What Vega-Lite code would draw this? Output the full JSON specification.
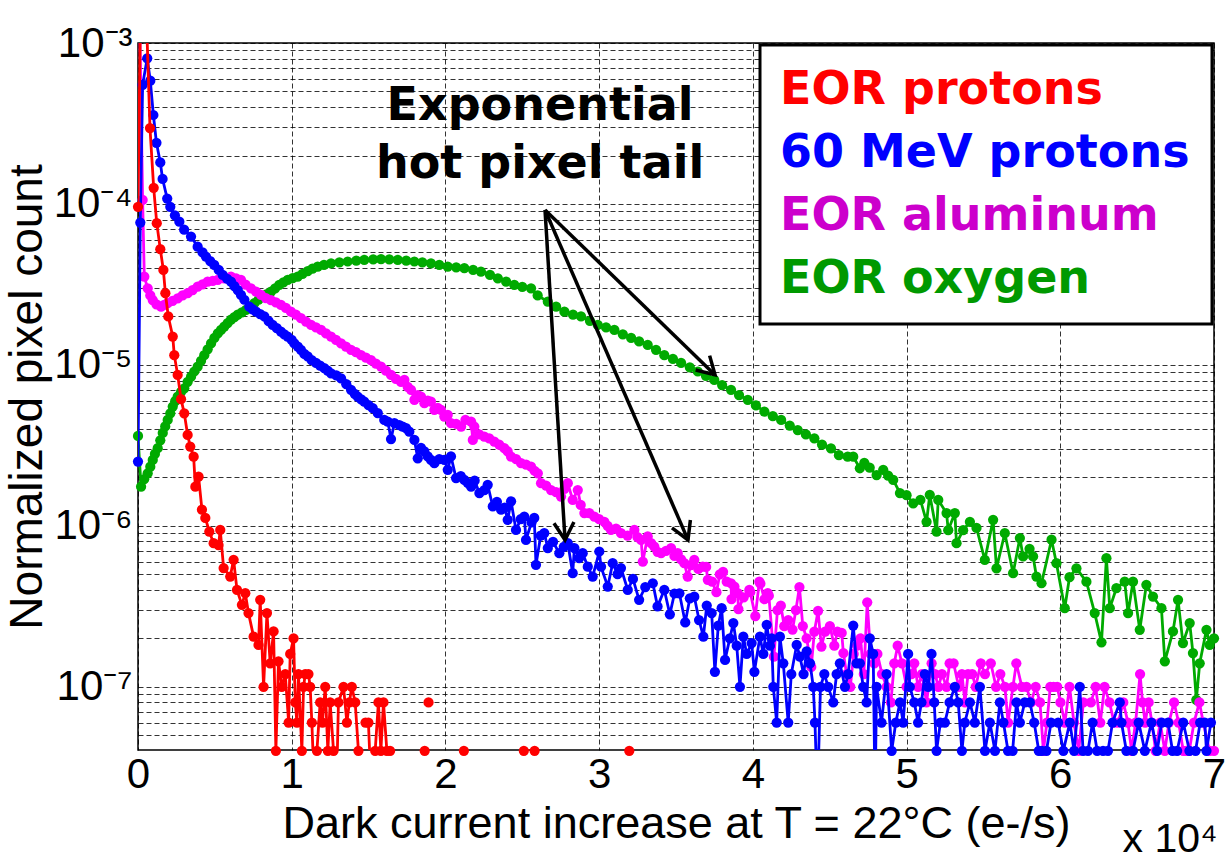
{
"$schema":"https://vega.github.io/schema/vega-lite/v6.json",
"width":1076,"height":707,
"autosize":{"type":"none"},
"padding":{"left":138,"top":43,"right":11,"bottom":110},
"background":"white",
"config":{"view":{"stroke":"black","strokeWidth":1.5}},
"title":{"text":"x 10⁴","orient":"bottom","anchor":"end","fontSize":41,"fontWeight":"normal","font":"Liberation Sans","color":"black","offset":-26,"dx":-8},
"datasets":{
"oxygen":[
{"x":0,"y":3.62e-6},{"x":0.02,"y":1.75e-6},{"x":0.04,"y":1.95e-6},{"x":0.063,"y":2.12e-6},{"x":0.08,"y":2.33e-6},{"x":0.096,"y":2.57e-6},{"x":0.11,"y":2.8e-6},{"x":0.128,"y":3.04e-6},{"x":0.145,"y":3.4e-6},{"x":0.161,"y":3.78e-6},{"x":0.177,"y":4.15e-6},{"x":0.193,"y":4.55e-6},{"x":0.21,"y":5.0e-6},{"x":0.226,"y":5.51e-6},{"x":0.242,"y":5.95e-6},{"x":0.258,"y":6.35e-6},{"x":0.28,"y":6.8e-6},{"x":0.301,"y":7.16e-6},{"x":0.323,"y":7.85e-6},{"x":0.345,"y":8.45e-6},{"x":0.366,"y":9.1e-6},{"x":0.388,"y":9.75e-6},{"x":0.41,"y":1.06e-5},{"x":0.431,"y":1.15e-5},{"x":0.453,"y":1.25e-5},{"x":0.475,"y":1.36e-5},{"x":0.497,"y":1.47e-5},{"x":0.519,"y":1.57e-5},{"x":0.54,"y":1.65e-5},{"x":0.561,"y":1.73e-5},{"x":0.583,"y":1.82e-5},{"x":0.605,"y":1.91e-5},{"x":0.627,"y":1.98e-5},{"x":0.649,"y":2.05e-5},{"x":0.676,"y":2.12e-5},{"x":0.703,"y":2.2e-5},{"x":0.73,"y":2.31e-5},{"x":0.757,"y":2.42e-5},{"x":0.784,"y":2.54e-5},{"x":0.811,"y":2.65e-5},{"x":0.838,"y":2.75e-5},{"x":0.865,"y":2.85e-5},{"x":0.892,"y":2.99e-5},{"x":0.919,"y":3.14e-5},{"x":0.946,"y":3.26e-5},{"x":0.974,"y":3.37e-5},{"x":1.006,"y":3.46e-5},{"x":1.039,"y":3.53e-5},{"x":1.07,"y":3.68e-5},{"x":1.104,"y":3.83e-5},{"x":1.135,"y":3.96e-5},{"x":1.169,"y":4.08e-5},{"x":1.21,"y":4.18e-5},{"x":1.256,"y":4.28e-5},{"x":1.31,"y":4.34e-5},{"x":1.364,"y":4.39e-5},{"x":1.42,"y":4.44e-5},{"x":1.472,"y":4.49e-5},{"x":1.53,"y":4.52e-5},{"x":1.581,"y":4.54e-5},{"x":1.635,"y":4.52e-5},{"x":1.69,"y":4.49e-5},{"x":1.745,"y":4.44e-5},{"x":1.798,"y":4.39e-5},{"x":1.85,"y":4.34e-5},{"x":1.906,"y":4.28e-5},{"x":1.96,"y":4.18e-5},{"x":2.015,"y":4.08e-5},{"x":2.07,"y":4.04e-5},{"x":2.123,"y":3.99e-5},{"x":2.18,"y":3.89e-5},{"x":2.231,"y":3.8e-5},{"x":2.29,"y":3.62e-5},{"x":2.341,"y":3.45e-5},{"x":2.395,"y":3.29e-5},{"x":2.448,"y":3.14e-5},{"x":2.5,"y":3.05e-5},{"x":2.557,"y":2.99e-5},{"x":2.6,"y":2.7e-5},{"x":2.666,"y":2.47e-5},{"x":2.72,"y":2.3e-5},{"x":2.774,"y":2.14e-5},{"x":2.83,"y":2.05e-5},{"x":2.882,"y":2.0e-5},{"x":2.94,"y":1.88e-5},{"x":2.991,"y":1.77e-5},{"x":3.045,"y":1.71e-5},{"x":3.099,"y":1.65e-5},{"x":3.154,"y":1.55e-5},{"x":3.208,"y":1.47e-5},{"x":3.26,"y":1.4e-5},{"x":3.316,"y":1.33e-5},{"x":3.37,"y":1.24e-5},{"x":3.424,"y":1.15e-5},{"x":3.48,"y":1.09e-5},{"x":3.533,"y":1.03e-5},{"x":3.59,"y":9.66e-6},{"x":3.642,"y":9.1e-6},{"x":3.695,"y":8.56e-6},{"x":3.749,"y":8.07e-6},{"x":3.8,"y":7.5e-6},{"x":3.858,"y":7.0e-6},{"x":3.91,"y":6.5e-6},{"x":3.967,"y":6.07e-6},{"x":4.02,"y":5.6e-6},{"x":4.075,"y":5.13e-6},{"x":4.13,"y":4.8e-6},{"x":4.184,"y":4.55e-6},{"x":4.24,"y":4.2e-6},{"x":4.292,"y":3.94e-6},{"x":4.345,"y":3.7e-6},{"x":4.4,"y":3.5e-6},{"x":4.45,"y":3.2e-6},{"x":4.508,"y":3.03e-6},{"x":4.56,"y":2.75e-6},{"x":4.617,"y":2.69e-6},{"x":4.653,"y":2.69e-6},{"x":4.696,"y":2.28e-6},{"x":4.725,"y":2.46e-6},{"x":4.76,"y":2.3e-6},{"x":4.805,"y":2.07e-6},{"x":4.848,"y":2.23e-6},{"x":4.88,"y":2.05e-6},{"x":4.913,"y":1.93e-6},{"x":4.957,"y":1.6e-6},{"x":5.0,"y":1.55e-6},{"x":5.043,"y":1.38e-6},{"x":5.09,"y":1.45e-6},{"x":5.13,"y":1.06e-6},{"x":5.151,"y":1.56e-6},{"x":5.195,"y":9.2e-7},{"x":5.206,"y":1.45e-6},{"x":5.26,"y":1.2e-6},{"x":5.271,"y":9.4e-7},{"x":5.314,"y":1.2e-6},{"x":5.325,"y":7.8e-7},{"x":5.368,"y":9.4e-7},{"x":5.412,"y":1.06e-6},{"x":5.455,"y":9.7e-7},{"x":5.509,"y":6.15e-7},{"x":5.563,"y":1.09e-6},{"x":5.585,"y":5.45e-7},{"x":5.639,"y":9.0e-7},{"x":5.693,"y":5.08e-7},{"x":5.737,"y":8.4e-7},{"x":5.758,"y":6.46e-7},{"x":5.8,"y":7.2e-7},{"x":5.823,"y":6.46e-7},{"x":5.845,"y":4.84e-7},{"x":5.878,"y":4.4e-7},{"x":5.943,"y":8.2e-7},{"x":5.975,"y":5.86e-7},{"x":6.029,"y":3.08e-7},{"x":6.06,"y":4.8e-7},{"x":6.105,"y":5.45e-7},{"x":6.17,"y":4.5e-7},{"x":6.224,"y":2.87e-7},{"x":6.268,"y":1.89e-7},{"x":6.3,"y":6.3e-7},{"x":6.322,"y":3.08e-7},{"x":6.365,"y":4.1e-7},{"x":6.419,"y":4.5e-7},{"x":6.441,"y":2.87e-7},{"x":6.473,"y":4.5e-7},{"x":6.517,"y":2.26e-7},{"x":6.56,"y":4.3e-7},{"x":6.603,"y":3.64e-7},{"x":6.658,"y":3.08e-7},{"x":6.68,"y":1.44e-7},{"x":6.733,"y":2.21e-7},{"x":6.766,"y":3.47e-7},{"x":6.798,"y":1.87e-7},{"x":6.842,"y":2.49e-7},{"x":6.863,"y":1.62e-7},{"x":6.885,"y":8.3e-8},{"x":6.907,"y":1.4e-7},{"x":6.951,"y":2.26e-7},{"x":6.972,"y":1.82e-7},{"x":7.0,"y":2.0e-7}
],
"aluminum":[
{"x":0.005,"y":3e-3},{"x":0.03,"y":1.06e-4},{"x":0.041,"y":3.53e-5},{"x":0.063,"y":2.99e-5},{"x":0.08,"y":2.7e-5},{"x":0.096,"y":2.53e-5},{"x":0.12,"y":2.38e-5},{"x":0.15,"y":2.3e-5},{"x":0.17,"y":2.36e-5},{"x":0.193,"y":2.42e-5},{"x":0.225,"y":2.5e-5},{"x":0.258,"y":2.59e-5},{"x":0.29,"y":2.7e-5},{"x":0.323,"y":2.79e-5},{"x":0.355,"y":2.92e-5},{"x":0.388,"y":3.06e-5},{"x":0.42,"y":3.17e-5},{"x":0.453,"y":3.29e-5},{"x":0.486,"y":3.33e-5},{"x":0.519,"y":3.37e-5},{"x":0.56,"y":3.45e-5},{"x":0.605,"y":3.53e-5},{"x":0.638,"y":3.45e-5},{"x":0.67,"y":3.37e-5},{"x":0.7,"y":3.15e-5},{"x":0.735,"y":2.99e-5},{"x":0.768,"y":2.85e-5},{"x":0.8,"y":2.72e-5},{"x":0.832,"y":2.6e-5},{"x":0.865,"y":2.53e-5},{"x":0.897,"y":2.45e-5},{"x":0.93,"y":2.36e-5},{"x":0.962,"y":2.26e-5},{"x":0.995,"y":2.14e-5},{"x":1.027,"y":2.05e-5},{"x":1.06,"y":1.95e-5},{"x":1.093,"y":1.86e-5},{"x":1.126,"y":1.77e-5},{"x":1.158,"y":1.71e-5},{"x":1.191,"y":1.65e-5},{"x":1.223,"y":1.57e-5},{"x":1.256,"y":1.5e-5},{"x":1.288,"y":1.43e-5},{"x":1.321,"y":1.36e-5},{"x":1.353,"y":1.3e-5},{"x":1.386,"y":1.24e-5},{"x":1.418,"y":1.2e-5},{"x":1.451,"y":1.15e-5},{"x":1.483,"y":1.11e-5},{"x":1.516,"y":1.07e-5},{"x":1.548,"y":1.02e-5},{"x":1.581,"y":9.77e-6},{"x":1.613,"y":9.2e-6},{"x":1.646,"y":8.67e-6},{"x":1.678,"y":8.2e-6},{"x":1.711,"y":7.84e-6},{"x":1.733,"y":8.07e-6},{"x":1.755,"y":7.3e-6},{"x":1.776,"y":7.0e-6},{"x":1.798,"y":6.07e-6},{"x":1.82,"y":6.5e-6},{"x":1.841,"y":6.35e-6},{"x":1.863,"y":5.78e-6},{"x":1.885,"y":6.0e-6},{"x":1.906,"y":5.92e-6},{"x":1.928,"y":5.25e-6},{"x":1.95,"y":5.4e-6},{"x":1.971,"y":5.25e-6},{"x":1.993,"y":4.78e-6},{"x":2.015,"y":4.9e-6},{"x":2.036,"y":4.35e-6},{"x":2.07,"y":4.3e-6},{"x":2.102,"y":4.14e-6},{"x":2.13,"y":4.55e-6},{"x":2.167,"y":4.45e-6},{"x":2.178,"y":3.42e-6},{"x":2.188,"y":4.14e-6},{"x":2.22,"y":3.7e-6},{"x":2.253,"y":3.59e-6},{"x":2.285,"y":3.5e-6},{"x":2.318,"y":3.34e-6},{"x":2.35,"y":3.2e-6},{"x":2.383,"y":3.04e-6},{"x":2.405,"y":2.9e-6},{"x":2.427,"y":2.69e-6},{"x":2.46,"y":2.6e-6},{"x":2.492,"y":2.45e-6},{"x":2.525,"y":2.4e-6},{"x":2.557,"y":2.33e-6},{"x":2.58,"y":2.2e-6},{"x":2.601,"y":2.12e-6},{"x":2.622,"y":1.84e-6},{"x":2.655,"y":1.78e-6},{"x":2.687,"y":1.67e-6},{"x":2.72,"y":1.62e-6},{"x":2.752,"y":1.52e-6},{"x":2.774,"y":1.7e-6},{"x":2.796,"y":1.84e-6},{"x":2.828,"y":1.45e-6},{"x":2.861,"y":1.67e-6},{"x":2.88,"y":1.35e-6},{"x":2.904,"y":1.2e-6},{"x":2.936,"y":1.2e-6},{"x":2.969,"y":1.14e-6},{"x":3.0,"y":1.1e-6},{"x":3.034,"y":1.06e-6},{"x":3.055,"y":1.0e-6},{"x":3.077,"y":9.44e-7},{"x":3.11,"y":9.6e-7},{"x":3.142,"y":9.0e-7},{"x":3.185,"y":8.7e-7},{"x":3.229,"y":9.44e-7},{"x":3.25,"y":8.5e-7},{"x":3.273,"y":8.18e-7},{"x":3.284,"y":6.0e-7},{"x":3.316,"y":8.6e-7},{"x":3.338,"y":7.8e-7},{"x":3.359,"y":7.43e-7},{"x":3.38,"y":6.9e-7},{"x":3.403,"y":6.76e-7},{"x":3.435,"y":7.0e-7},{"x":3.468,"y":7.28e-7},{"x":3.49,"y":6.5e-7},{"x":3.511,"y":6.76e-7},{"x":3.533,"y":6.2e-7},{"x":3.554,"y":5.86e-7},{"x":3.576,"y":4.84e-7},{"x":3.597,"y":5.7e-7},{"x":3.619,"y":6.15e-7},{"x":3.645,"y":5.4e-7},{"x":3.674,"y":5.58e-7},{"x":3.696,"y":5.56e-7},{"x":3.707,"y":4.62e-7},{"x":3.735,"y":4.5e-7},{"x":3.763,"y":3.87e-7},{"x":3.785,"y":5.0e-7},{"x":3.806,"y":5.18e-7},{"x":3.83,"y":4.5e-7},{"x":3.858,"y":4.4e-7},{"x":3.861,"y":3.51e-7},{"x":3.88,"y":4.2e-7},{"x":3.902,"y":3.82e-7},{"x":3.906,"y":3.04e-7},{"x":3.94,"y":3.6e-7},{"x":3.977,"y":4.0e-7},{"x":3.983,"y":3.87e-7},{"x":4.016,"y":2.75e-7},{"x":4.042,"y":4.5e-7},{"x":4.049,"y":4.37e-7},{"x":4.075,"y":3.5e-7},{"x":4.097,"y":3.82e-7},{"x":4.104,"y":3.68e-7},{"x":4.137,"y":1.54e-7},{"x":4.16,"y":3.0e-7},{"x":4.182,"y":3.19e-7},{"x":4.204,"y":2.38e-7},{"x":4.23,"y":2.6e-7},{"x":4.258,"y":2.27e-7},{"x":4.28,"y":3.0e-7},{"x":4.303,"y":4.17e-7},{"x":4.325,"y":2.38e-7},{"x":4.35,"y":2.0e-7},{"x":4.38,"y":1.33e-7},{"x":4.4,"y":2.2e-7},{"x":4.424,"y":2.96e-7},{"x":4.446,"y":1.78e-7},{"x":4.47,"y":2.2e-7},{"x":4.501,"y":2.38e-7},{"x":4.53,"y":1.8e-7},{"x":4.55,"y":2.2e-7},{"x":4.578,"y":2.16e-7},{"x":4.589,"y":1.62e-7},{"x":4.61,"y":1.2e-7},{"x":4.634,"y":1.0e-7},{"x":4.656,"y":1.6e-7},{"x":4.678,"y":1.8e-7},{"x":4.7,"y":2.0e-7},{"x":4.722,"y":1.2e-7},{"x":4.744,"y":3.35e-7},{"x":4.766,"y":1.6e-7},{"x":4.79,"y":1.4e-7},{"x":4.81,"y":1.6e-7},{"x":4.84,"y":1.2e-7},{"x":4.87,"y":1.0e-7},{"x":4.898,"y":8e-8},{"x":4.92,"y":1.4e-7},{"x":4.942,"y":1.8e-7},{"x":4.97,"y":1.4e-7},{"x":5.0,"y":1.0e-7},{"x":5.031,"y":1.2e-7},{"x":5.05,"y":1.4e-7},{"x":5.075,"y":1.0e-7},{"x":5.1,"y":1.2e-7},{"x":5.13,"y":8e-8},{"x":5.163,"y":1.4e-7},{"x":5.185,"y":1.2e-7},{"x":5.207,"y":1.0e-7},{"x":5.23,"y":1.2e-7},{"x":5.26,"y":1.0e-7},{"x":5.28,"y":1.4e-7},{"x":5.306,"y":1.4e-7},{"x":5.339,"y":1.0e-7},{"x":5.36,"y":1.2e-7},{"x":5.38,"y":8e-8},{"x":5.4,"y":1.2e-7},{"x":5.427,"y":1.2e-7},{"x":5.45,"y":1.0e-7},{"x":5.483,"y":1.4e-7},{"x":5.51,"y":1.2e-7},{"x":5.548,"y":1.4e-7},{"x":5.582,"y":1.0e-7},{"x":5.61,"y":1.2e-7},{"x":5.64,"y":1.0e-7},{"x":5.66,"y":6e-8},{"x":5.692,"y":1.0e-7},{"x":5.714,"y":1.4e-7},{"x":5.75,"y":1.0e-7},{"x":5.78,"y":1.0e-7},{"x":5.81,"y":8e-8},{"x":5.84,"y":1.0e-7},{"x":5.868,"y":8e-8},{"x":5.89,"y":4e-8},{"x":5.913,"y":6e-8},{"x":5.935,"y":1.0e-7},{"x":5.956,"y":1.0e-7},{"x":5.98,"y":1.0e-7},{"x":6.001,"y":8e-8},{"x":6.03,"y":6e-8},{"x":6.06,"y":1.0e-7},{"x":6.089,"y":6e-8},{"x":6.12,"y":4e-8},{"x":6.15,"y":8e-8},{"x":6.199,"y":8e-8},{"x":6.23,"y":1.0e-7},{"x":6.26,"y":6e-8},{"x":6.288,"y":1.0e-7},{"x":6.32,"y":8e-8},{"x":6.35,"y":6e-8},{"x":6.376,"y":6e-8},{"x":6.41,"y":8e-8},{"x":6.44,"y":6e-8},{"x":6.464,"y":4e-8},{"x":6.49,"y":6e-8},{"x":6.519,"y":1.2e-7},{"x":6.535,"y":8e-8},{"x":6.552,"y":6e-8},{"x":6.575,"y":8e-8},{"x":6.596,"y":6e-8},{"x":6.62,"y":4e-8},{"x":6.65,"y":6e-8},{"x":6.68,"y":4e-8},{"x":6.707,"y":6e-8},{"x":6.74,"y":8e-8},{"x":6.77,"y":6e-8},{"x":6.8,"y":4e-8},{"x":6.82,"y":4e-8},{"x":6.839,"y":4e-8},{"x":6.87,"y":6e-8},{"x":6.905,"y":8e-8},{"x":6.93,"y":6e-8},{"x":6.971,"y":4e-8},{"x":7.0,"y":4e-8}
],
"mev":[
{"x":0,"y":2.51e-6},{"x":0.015,"y":7.66e-5},{"x":0.03,"y":5.5e-4},{"x":0.06,"y":8.03e-4},{"x":0.08,"y":5.83e-4},{"x":0.1,"y":3.57e-4},{"x":0.12,"y":2.4e-4},{"x":0.145,"y":1.81e-4},{"x":0.16,"y":1.43e-4},{"x":0.19,"y":1.08e-4},{"x":0.21,"y":9.6e-5},{"x":0.24,"y":8.5e-5},{"x":0.269,"y":7.76e-5},{"x":0.3,"y":6.92e-5},{"x":0.345,"y":6.27e-5},{"x":0.388,"y":5.43e-5},{"x":0.42,"y":5.0e-5},{"x":0.442,"y":4.71e-5},{"x":0.47,"y":4.42e-5},{"x":0.496,"y":4.18e-5},{"x":0.525,"y":3.89e-5},{"x":0.551,"y":3.62e-5},{"x":0.58,"y":3.43e-5},{"x":0.605,"y":3.29e-5},{"x":0.627,"y":3.09e-5},{"x":0.649,"y":2.92e-5},{"x":0.67,"y":2.72e-5},{"x":0.692,"y":2.54e-5},{"x":0.724,"y":2.3e-5},{"x":0.746,"y":2.21e-5},{"x":0.768,"y":2.14e-5},{"x":0.795,"y":2.07e-5},{"x":0.822,"y":2.0e-5},{"x":0.85,"y":1.87e-5},{"x":0.876,"y":1.77e-5},{"x":0.903,"y":1.69e-5},{"x":0.93,"y":1.61e-5},{"x":0.952,"y":1.55e-5},{"x":0.974,"y":1.5e-5},{"x":1.0,"y":1.43e-5},{"x":1.017,"y":1.36e-5},{"x":1.04,"y":1.3e-5},{"x":1.06,"y":1.24e-5},{"x":1.082,"y":1.17e-5},{"x":1.104,"y":1.13e-5},{"x":1.13,"y":1.07e-5},{"x":1.158,"y":1.03e-5},{"x":1.185,"y":9.89e-6},{"x":1.212,"y":9.55e-6},{"x":1.234,"y":9.23e-6},{"x":1.256,"y":8.87e-6},{"x":1.29,"y":8.61e-6},{"x":1.321,"y":8.26e-6},{"x":1.355,"y":7.59e-6},{"x":1.386,"y":7.0e-6},{"x":1.41,"y":6.61e-6},{"x":1.429,"y":6.35e-6},{"x":1.452,"y":6.1e-6},{"x":1.472,"y":5.92e-6},{"x":1.5,"y":5.62e-6},{"x":1.527,"y":5.38e-6},{"x":1.56,"y":5.01e-6},{"x":1.602,"y":4.55e-6},{"x":1.625,"y":4.45e-6},{"x":1.646,"y":3.46e-6},{"x":1.668,"y":4.35e-6},{"x":1.7,"y":4.22e-6},{"x":1.722,"y":4.14e-6},{"x":1.744,"y":4.05e-6},{"x":1.765,"y":3.85e-6},{"x":1.798,"y":3.42e-6},{"x":1.82,"y":2.63e-6},{"x":1.841,"y":3.05e-6},{"x":1.863,"y":2.9e-6},{"x":1.885,"y":2.7e-6},{"x":1.906,"y":2.57e-6},{"x":1.928,"y":2.45e-6},{"x":1.96,"y":2.6e-6},{"x":1.993,"y":2.57e-6},{"x":2.015,"y":2.23e-6},{"x":2.036,"y":2.7e-6},{"x":2.069,"y":1.98e-6},{"x":2.1,"y":2.04e-6},{"x":2.123,"y":1.93e-6},{"x":2.145,"y":1.85e-6},{"x":2.167,"y":1.75e-6},{"x":2.19,"y":1.91e-6},{"x":2.221,"y":1.6e-6},{"x":2.253,"y":1.67e-6},{"x":2.275,"y":1.8e-6},{"x":2.308,"y":1.32e-6},{"x":2.335,"y":1.41e-6},{"x":2.362,"y":1.26e-6},{"x":2.385,"y":1.3e-6},{"x":2.405,"y":1.09e-6},{"x":2.427,"y":1.42e-6},{"x":2.459,"y":9.44e-7},{"x":2.49,"y":1.1e-6},{"x":2.513,"y":1.14e-6},{"x":2.524,"y":8.18e-7},{"x":2.56,"y":1.05e-6},{"x":2.578,"y":1.12e-6},{"x":2.589,"y":5.73e-7},{"x":2.62,"y":8.7e-7},{"x":2.643,"y":9.02e-7},{"x":2.666,"y":7.28e-7},{"x":2.7,"y":7.94e-7},{"x":2.741,"y":6.76e-7},{"x":2.77,"y":7.41e-7},{"x":2.796,"y":7.82e-7},{"x":2.828,"y":5.08e-7},{"x":2.839,"y":7.28e-7},{"x":2.87,"y":6.31e-7},{"x":2.893,"y":6.76e-7},{"x":2.926,"y":5.58e-7},{"x":2.958,"y":4.84e-7},{"x":3.001,"y":6.93e-7},{"x":3.012,"y":5.58e-7},{"x":3.056,"y":4.2e-7},{"x":3.088,"y":5.86e-7},{"x":3.12,"y":5.01e-7},{"x":3.142,"y":5.47e-7},{"x":3.186,"y":4.0e-7},{"x":3.22,"y":4.68e-7},{"x":3.26,"y":3.47e-7},{"x":3.3,"y":4.17e-7},{"x":3.349,"y":4.4e-7},{"x":3.38,"y":3.16e-7},{"x":3.424,"y":4.0e-7},{"x":3.46,"y":2.82e-7},{"x":3.49,"y":3.8e-7},{"x":3.522,"y":3.81e-7},{"x":3.56,"y":2.51e-7},{"x":3.59,"y":3.55e-7},{"x":3.619,"y":3.63e-7},{"x":3.65,"y":2.6e-7},{"x":3.678,"y":2.05e-7},{"x":3.7,"y":3.2e-7},{"x":3.732,"y":2.87e-7},{"x":3.753,"y":1.24e-7},{"x":3.775,"y":2.4e-7},{"x":3.797,"y":3.08e-7},{"x":3.819,"y":1.47e-7},{"x":3.85,"y":2.0e-7},{"x":3.873,"y":2.49e-7},{"x":3.895,"y":1.8e-7},{"x":3.916,"y":1.0e-7},{"x":3.938,"y":2.05e-7},{"x":3.96,"y":1.6e-7},{"x":3.992,"y":1.87e-7},{"x":4.01,"y":1.24e-7},{"x":4.046,"y":2.05e-7},{"x":4.068,"y":1.6e-7},{"x":4.09,"y":2.43e-7},{"x":4.111,"y":1.8e-7},{"x":4.122,"y":2.0e-7},{"x":4.133,"y":1.0e-7},{"x":4.155,"y":6e-8},{"x":4.176,"y":2.05e-7},{"x":4.198,"y":1.4e-7},{"x":4.23,"y":6e-8},{"x":4.25,"y":1.2e-7},{"x":4.285,"y":1.82e-7},{"x":4.306,"y":1.54e-7},{"x":4.33,"y":1.2e-7},{"x":4.35,"y":1.66e-7},{"x":4.372,"y":1.4e-7},{"x":4.393,"y":1.0e-7},{"x":4.404,"y":6e-8},{"x":4.42,"y":2e-8},{"x":4.44,"y":1.0e-7},{"x":4.465,"y":1.2e-7},{"x":4.49,"y":1.0e-7},{"x":4.523,"y":8e-8},{"x":4.545,"y":1.2e-7},{"x":4.566,"y":1.4e-7},{"x":4.599,"y":1.0e-7},{"x":4.62,"y":1.2e-7},{"x":4.653,"y":2.4e-7},{"x":4.675,"y":1.4e-7},{"x":4.696,"y":1.4e-7},{"x":4.718,"y":1.0e-7},{"x":4.74,"y":8e-8},{"x":4.761,"y":2.0e-7},{"x":4.783,"y":1.6e-7},{"x":4.795,"y":2e-8},{"x":4.805,"y":1.0e-7},{"x":4.837,"y":6e-8},{"x":4.87,"y":1.2e-7},{"x":4.903,"y":4e-8},{"x":4.93,"y":6e-8},{"x":4.957,"y":8e-8},{"x":4.978,"y":6e-8},{"x":5.01,"y":1.6e-7},{"x":5.021,"y":1.0e-7},{"x":5.05,"y":8e-8},{"x":5.075,"y":6e-8},{"x":5.097,"y":8e-8},{"x":5.119,"y":1.2e-7},{"x":5.14,"y":1.0e-7},{"x":5.162,"y":1.6e-7},{"x":5.18,"y":8e-8},{"x":5.195,"y":4e-8},{"x":5.22,"y":6e-8},{"x":5.249,"y":6e-8},{"x":5.28,"y":8e-8},{"x":5.314,"y":1.0e-7},{"x":5.336,"y":8e-8},{"x":5.36,"y":4e-8},{"x":5.379,"y":6e-8},{"x":5.412,"y":8e-8},{"x":5.444,"y":6e-8},{"x":5.477,"y":1.0e-7},{"x":5.51,"y":4e-8},{"x":5.542,"y":6e-8},{"x":5.575,"y":4e-8},{"x":5.607,"y":8e-8},{"x":5.63,"y":6e-8},{"x":5.66,"y":4e-8},{"x":5.69,"y":4e-8},{"x":5.715,"y":8e-8},{"x":5.737,"y":6e-8},{"x":5.769,"y":8e-8},{"x":5.802,"y":8e-8},{"x":5.83,"y":6e-8},{"x":5.86,"y":4e-8},{"x":5.88,"y":4e-8},{"x":5.91,"y":4e-8},{"x":5.94,"y":6e-8},{"x":5.986,"y":6e-8},{"x":6.02,"y":4e-8},{"x":6.062,"y":6e-8},{"x":6.09,"y":4e-8},{"x":6.127,"y":1.0e-7},{"x":6.148,"y":4e-8},{"x":6.18,"y":4e-8},{"x":6.21,"y":6e-8},{"x":6.24,"y":4e-8},{"x":6.278,"y":4e-8},{"x":6.31,"y":4e-8},{"x":6.34,"y":6e-8},{"x":6.387,"y":8e-8},{"x":6.398,"y":6e-8},{"x":6.43,"y":4e-8},{"x":6.473,"y":4e-8},{"x":6.51,"y":6e-8},{"x":6.55,"y":4e-8},{"x":6.593,"y":6e-8},{"x":6.63,"y":4e-8},{"x":6.66,"y":6e-8},{"x":6.701,"y":6e-8},{"x":6.73,"y":4e-8},{"x":6.76,"y":4e-8},{"x":6.8,"y":6e-8},{"x":6.84,"y":4e-8},{"x":6.88,"y":4e-8},{"x":6.91,"y":6e-8},{"x":6.94,"y":6e-8},{"x":6.951,"y":4e-8},{"x":6.98,"y":6e-8}
],
"protons":[
{"x":0,"y":9.6e-5},{"x":0.02,"y":3e-3},{"x":0.05,"y":2e-3},{"x":0.078,"y":2.96e-4},{"x":0.102,"y":1.26e-4},{"x":0.122,"y":7.6e-5},{"x":0.145,"y":5.24e-5},{"x":0.165,"y":3.89e-5},{"x":0.178,"y":2.79e-5},{"x":0.197,"y":2.0e-5},{"x":0.226,"y":1.5e-5},{"x":0.236,"y":1.15e-5},{"x":0.258,"y":8.67e-6},{"x":0.28,"y":6.12e-6},{"x":0.301,"y":5.0e-6},{"x":0.323,"y":3.67e-6},{"x":0.34,"y":3.11e-6},{"x":0.362,"y":2.69e-6},{"x":0.373,"y":1.75e-6},{"x":0.394,"y":2.02e-6},{"x":0.416,"y":1.26e-6},{"x":0.438,"y":1.12e-6},{"x":0.464,"y":9.2e-7},{"x":0.492,"y":7.8e-7},{"x":0.524,"y":7.6e-7},{"x":0.535,"y":9.44e-7},{"x":0.557,"y":5.47e-7},{"x":0.6,"y":4.84e-7},{"x":0.622,"y":6.15e-7},{"x":0.644,"y":4.0e-7},{"x":0.676,"y":3.23e-7},{"x":0.698,"y":3.82e-7},{"x":0.719,"y":2.87e-7},{"x":0.752,"y":2.05e-7},{"x":0.784,"y":1.82e-7},{"x":0.795,"y":3.47e-7},{"x":0.817,"y":1.0e-7},{"x":0.839,"y":2.87e-7},{"x":0.86,"y":1.4e-7},{"x":0.882,"y":2.21e-7},{"x":0.897,"y":4e-8},{"x":0.914,"y":1.44e-7},{"x":0.935,"y":1.0e-7},{"x":0.958,"y":1.2e-7},{"x":0.98,"y":6e-8},{"x":0.99,"y":1.6e-7},{"x":1.012,"y":2.0e-7},{"x":1.023,"y":8e-8},{"x":1.034,"y":6e-8},{"x":1.044,"y":1.2e-7},{"x":1.066,"y":4e-8},{"x":1.077,"y":1.0e-7},{"x":1.088,"y":1.2e-7},{"x":1.109,"y":1.2e-7},{"x":1.12,"y":1.0e-7},{"x":1.131,"y":6e-8},{"x":1.15,"y":2e-8},{"x":1.164,"y":4e-8},{"x":1.185,"y":8e-8},{"x":1.2,"y":6e-8},{"x":1.218,"y":1.0e-7},{"x":1.235,"y":4e-8},{"x":1.25,"y":8e-8},{"x":1.272,"y":4e-8},{"x":1.29,"y":2e-8},{"x":1.304,"y":8e-8},{"x":1.337,"y":1.0e-7},{"x":1.359,"y":6e-8},{"x":1.375,"y":8e-8},{"x":1.391,"y":1.0e-7},{"x":1.413,"y":8e-8},{"x":1.434,"y":4e-8},{"x":1.46,"y":null},{"x":1.48,"y":6e-8},{"x":1.499,"y":6e-8},{"x":1.52,"y":2e-8},{"x":1.543,"y":4e-8},{"x":1.564,"y":8e-8},{"x":1.58,"y":4e-8},{"x":1.597,"y":8e-8},{"x":1.619,"y":4e-8},{"x":1.64,"y":4e-8},{"x":1.66,"y":null},{"x":1.865,"y":4e-8},{"x":1.88,"y":null},{"x":1.89,"y":8e-8},{"x":1.91,"y":null},{"x":2.12,"y":4e-8},{"x":2.14,"y":null},{"x":2.51,"y":4e-8},{"x":2.58,"y":4e-8},{"x":2.6,"y":null},{"x":3.196,"y":4e-8}
],
"arrows":[
{"x":2.648,"y":9.18e-5,"x2":2.778,"y2":8.18e-7,"a":86.5},
{"x":2.648,"y":9.18e-5,"x2":3.578,"y2":8.18e-7,"a":66.9},
{"x":2.648,"y":9.18e-5,"x2":3.754,"y2":8.67e-6,"a":44.3}
]
},
"encoding":{
"x":{"field":"x","type":"quantitative","scale":{"domain":[0,7],"nice":false,"zero":false},
"axis":{"values":[0,1,2,3,4,5,6,7],"format":"d","grid":true,"gridColor":"#000","gridDash":[5,3],"gridWidth":1,"gridOpacity":0.8,"domain":false,"ticks":false,"labelFont":"Liberation Sans","labelFontSize":42,"labelColor":"#000","labelPadding":4,"labelFlush":false,"labelOverlap":false,"title":"Dark current increase at T = 22°C (e-/s)","titleFont":"Liberation Sans","titleFontSize":45,"titleFontWeight":"normal","titleColor":"#000","titlePadding":6}},
"y":{"field":"y","type":"quantitative","scale":{"type":"log","domain":[4.05e-8,1e-3],"nice":false},
"axis":{"values":[5e-8,6e-8,7e-8,8e-8,9e-8,1e-7,2e-7,3e-7,4e-7,5e-7,6e-7,7e-7,8e-7,9e-7,1e-6,2e-6,3e-6,4e-6,5e-6,6e-6,7e-6,8e-6,9e-6,1e-5,2e-5,3e-5,4e-5,5e-5,6e-5,7e-5,8e-5,9e-5,1e-4,2e-4,3e-4,4e-4,5e-4,6e-4,7e-4,8e-4,9e-4,1e-3],
"labelExpr":"datum.value == 1e-3 ? '10⁻³' : datum.value == 1e-4 ? '10⁻⁴' : datum.value == 1e-5 ? '10⁻⁵' : datum.value == 1e-6 ? '10⁻⁶' : datum.value == 1e-7 ? '10⁻⁷' : ''",
"labelOverlap":false,"labelBound":false,"labelFlush":false,"grid":true,"gridColor":"#000","gridDash":[5,3],"gridWidth":1,"gridOpacity":0.8,"domain":false,"ticks":false,"labelFont":"Liberation Sans","labelFontSize":42,"labelColor":"#000","labelPadding":6,"title":"Normalized pixel count","titleFont":"Liberation Sans","titleFontSize":46,"titleFontWeight":"normal","titleColor":"#000","titlePadding":2}}
},
"layer":[
{"data":{"name":"oxygen"},"mark":{"type":"line","clip":true,"strokeWidth":2.8,"invalid":"break-paths-filter-domains"},
 "encoding":{"color":{"datum":"EOR oxygen","type":"nominal",
  "scale":{"domain":["EOR protons","60 MeV protons","EOR aluminum","EOR oxygen"],"range":["#ff0000","#0000ff","#ff00ff","#00aa00"]},
  "legend":{"title":null,"orient":"top-right","offset":2,"padding":22,"rowPadding":17,"labelFont":"DejaVu Sans","labelFontSize":46,"labelFontWeight":"bold","labelLimit":1000,"symbolType":"circle","symbolSize":0,"symbolOpacity":0,"symbolStrokeWidth":0,"labelOffset":-48,"strokeColor":"black","fillColor":"white",
   "encode":{"legend":{"update":{"strokeWidth":{"value":3}}},"symbols":{"update":{"size":{"value":0},"opacity":{"value":0},"strokeWidth":{"value":0}}},"labels":{"update":{"fill":[{"test":"datum.value === 'EOR protons'","value":"#ff0000"},{"test":"datum.value === '60 MeV protons'","value":"#0000ff"},{"test":"datum.value === 'EOR aluminum'","value":"#cc00cc"},{"value":"#009900"}]}}}}}}},
{"data":{"name":"oxygen"},"transform":[{"filter":"datum.y != null && datum.y >= 3.5e-8 && datum.y <= 1e-3"}],"mark":{"type":"point","filled":true,"size":105,"opacity":1},"encoding":{"color":{"datum":"EOR oxygen","type":"nominal"}}},
{"data":{"name":"aluminum"},"mark":{"type":"line","clip":true,"strokeWidth":2.8,"invalid":"break-paths-filter-domains"},"encoding":{"color":{"datum":"EOR aluminum","type":"nominal"}}},
{"data":{"name":"aluminum"},"transform":[{"filter":"datum.y != null && datum.y >= 3.5e-8 && datum.y <= 1e-3"}],"mark":{"type":"point","filled":true,"size":105,"opacity":1},"encoding":{"color":{"datum":"EOR aluminum","type":"nominal"}}},
{"data":{"name":"mev"},"mark":{"type":"line","clip":true,"strokeWidth":2.8,"invalid":"break-paths-filter-domains"},"encoding":{"color":{"datum":"60 MeV protons","type":"nominal"}}},
{"data":{"name":"mev"},"transform":[{"filter":"datum.y != null && datum.y >= 3.5e-8 && datum.y <= 1e-3"}],"mark":{"type":"point","filled":true,"size":105,"opacity":1},"encoding":{"color":{"datum":"60 MeV protons","type":"nominal"}}},
{"data":{"name":"protons"},"mark":{"type":"line","clip":true,"strokeWidth":2.8,"invalid":"break-paths-filter-domains"},"encoding":{"color":{"datum":"EOR protons","type":"nominal"}}},
{"data":{"name":"protons"},"transform":[{"filter":"datum.y != null && datum.y >= 3.5e-8 && datum.y <= 1e-3"}],"mark":{"type":"point","filled":true,"size":105,"opacity":1},"encoding":{"color":{"datum":"EOR protons","type":"nominal"}}},
{"data":{"name":"arrows"},"mark":{"type":"rule","color":"black","strokeWidth":3.5},"encoding":{"x2":{"field":"x2"},"y2":{"field":"y2"}}},
{"data":{"name":"arrows"},"mark":{"type":"point","shape":"M -1 -0.577 L 0 0 L -1 0.577","filled":false,"color":"black","strokeWidth":3.5,"size":1200,"opacity":1},
 "encoding":{"x":{"field":"x2","type":"quantitative"},"y":{"field":"y2","type":"quantitative"},"angle":{"field":"a","type":"quantitative","scale":null}}},
{"data":{"name":"arrows"},"transform":[{"filter":"datum.a > 80"}],"mark":{"type":"text","font":"DejaVu Sans","fontSize":46,"fontWeight":"bold","align":"center","baseline":"alphabetic","dx":-5,"dy":-90,"fill":"black","text":"Exponential"}},
{"data":{"name":"arrows"},"transform":[{"filter":"datum.a > 80"}],"mark":{"type":"text","font":"DejaVu Sans","fontSize":46,"fontWeight":"bold","align":"center","baseline":"alphabetic","dx":-5,"dy":-32,"fill":"black","text":"hot pixel tail"}}
]
}
